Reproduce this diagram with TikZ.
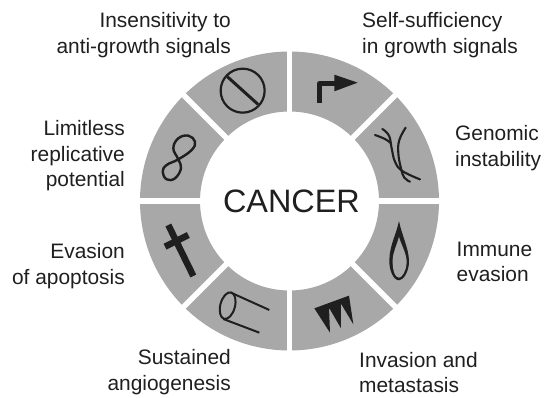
\documentclass[tikz,border=0pt]{standalone}
\usepackage{fontspec}
\usetikzlibrary{calc}
\setmainfont{Liberation Sans}
\definecolor{ringgray}{gray}{0.66}
\definecolor{inkc}{gray}{0.12}
\tikzset{
  lab/.style={font=\fontsize{20.9}{25.5}\selectfont, text=inkc, inner sep=0pt},
  ico/.style={draw=inkc, line join=round},
  zoomed/.style={x=0.3333pt,y=-0.3333pt}
}
\begin{document}
\begin{tikzpicture}[x=1pt,y=-1pt]
\useasboundingbox (0,0) rectangle (547,397);
\coordinate (c) at (289.5,201);
% ring
\fill[ringgray,even odd rule] (c) circle[radius=149.5] (c) circle[radius=89.5];
\foreach \a in {0,45,...,315}{
  \draw[white,line width=5.5pt] ($(c)+(\a:88)$) -- ($(c)+(\a:152)$);
}
\node[lab,font=\fontsize{32.4}{36}\selectfont] (can) at (291.5,201.5) {CANCER};
% labels
\node[lab,align=right,anchor=east] (l1) at (231,35) {Insensitivity to\\anti-growth signals};
\node[lab,align=left,anchor=west] (l2) at (362,35) {Self-sufficiency\\in growth signals};
\node[lab,align=left,anchor=west] (l3) at (455,148) {Genomic\\instability};
\node[lab,align=left,anchor=west] (l4) at (456.5,262) {Immune\\evasion};
\node[lab,align=left,anchor=west] (l5) at (359,372.5) {Invasion and\\metastasis};
\node[lab,align=right,anchor=east] (l6) at (231,372) {Sustained\\angiogenesis};
\node[lab,align=right,anchor=east] (l7) at (125,266) {Evasion\\of apoptosis};
\node[lab,align=right,anchor=east] (l8) at (125,156) {Limitless\\replicative\\potential};
% no sign
\begin{scope}[shift={(130,50)},zoomed]
  \draw[ico,line width=2.2pt] (338,122) circle[radius=66];
  \draw[ico,line width=3pt] (292,80) -- (384,163);
\end{scope}
% eight
\begin{scope}[shift={(150,120)},zoomed]
  \draw[ico,line width=2.4pt] plot[smooth cycle,tension=0.7] coordinates {(85,118) (70,85) (85,55) (115,47) (135,65) (125,90) (85,118) (50,135) (38,155) (50,178) (75,175) (93,145)};
\end{scope}
% arrow
\begin{scope}[shift={(285,50)},zoomed]
  \draw[ico,line width=4.4pt,line cap=butt] (103,158) -- (103,100) -- (155,100);
  \fill[inkc] (148,74) -- (218,98) -- (148,124) -- cycle;
\end{scope}
% strands
\begin{scope}[shift={(365,115)},zoomed]
  \draw[ico,line width=2.1pt,line cap=round] plot[smooth,tension=0.7] coordinates {(30,60) (60,72) (78,85)};
  \draw[ico,line width=2.1pt,line cap=round] plot[smooth,tension=0.7] coordinates {(52,42) (72,62) (80,100) (90,140) (112,168) (165,193)};
  \draw[ico,line width=2.1pt,line cap=round] plot[smooth,tension=0.7] coordinates {(122,38) (103,75) (100,115) (108,160) (118,188) (135,200)};
\end{scope}
% cross and cylinder
\begin{scope}[shift={(130,195)},zoomed]
  \draw[ico,line width=6.5pt] (115,90) -- (190,243);
  \draw[ico,line width=6.5pt] (105,155) -- (175,120);
  \draw[ico,line width=2pt,rotate around={-15:(293,332)}] (293,332) ellipse[x radius=22,y radius=41];
  \draw[ico,line width=2pt] (303,293) -- (418,345);
  \draw[ico,line width=2pt] (280,372) -- (388,413);
\end{scope}
% flame and teeth
\begin{scope}[shift={(285,195)},zoomed]
  \fill[inkc] (342,78) .. controls (350,120) and (372,160) .. (372,200) .. controls (372,230) and (355,256) .. (342,256) .. controls (325,256) and (312,225) .. (313,195) .. controls (314,150) and (335,115) .. (342,78) -- cycle;
  \fill[ringgray] (342,125) .. controls (348,150) and (366,175) .. (365,205) .. controls (364,225) and (352,248) .. (342,248) .. controls (330,248) and (322,225) .. (323,195) .. controls (324,170) and (336,150) .. (342,125) -- cycle;
  \fill[inkc] (88,340) -- (192,302) -- (205,388) -- (168,326) -- (168,400) -- (132,338) -- (135,413) -- cycle;
\end{scope}
\end{tikzpicture}
\end{document}
